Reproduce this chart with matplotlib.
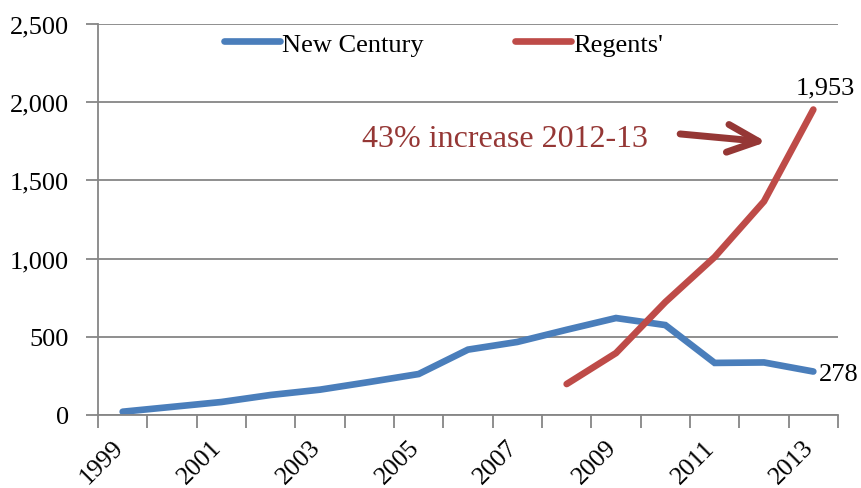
import numpy as np
import matplotlib
matplotlib.use('Agg')
import matplotlib.pyplot as plt

years = list(range(1999, 2014))
new_century = [21, 52, 83, 128, 162, 211, 262, 418, 467, 545, 620, 575, 333, 336, 278]
regents_years = [2008, 2009, 2010, 2011, 2012, 2013]
regents = [198, 396, 722, 1010, 1366, 1953]

blue = '#4A7EBB'
red = '#BE4B48'
dark_red = '#953735'
grey = '#868686'

plt.rcParams['font.family'] = ['Liberation Serif', 'DejaVu Serif']

fig = plt.figure(figsize=(8.61, 4.89), dpi=100)
ax = fig.add_axes([98 / 861, 1 - 416 / 489, 740 / 861, 391 / 489])

ax.plot(years, new_century, color=blue, lw=4.8, solid_capstyle='round', solid_joinstyle='miter', label='New Century')
ax.plot(regents_years, regents, color=red, lw=4.8, solid_capstyle='round', solid_joinstyle='miter', label="Regents'")

ax.set_xlim(1998.5, 2013.5)
ax.set_ylim(0, 2500)
ax.set_yticks(np.arange(0, 2501, 500))
ax.set_yticklabels(['0', '500', '1,000', '1,500', '2,000', '2,500'], fontsize=19)
ax.yaxis.grid(True, color=grey, lw=1.3)
ax.set_axisbelow(True)

# labels every other year, nudged a little right of the category centre
label_years = years[::2]
ax.set_xticks([y + 0.1 for y in label_years])
ax.set_xticklabels([str(y) for y in label_years], fontsize=18.5, rotation=45, ha='right', va='top')
ax.set_xticks(np.arange(1998.5, 2014, 1), minor=True)
ax.tick_params(axis='x', which='major', length=0, pad=15)
ax.tick_params(axis='x', which='minor', length=9, width=1.3, color=grey, direction='out')
ax.tick_params(axis='y', length=9, width=1.3, color=grey, pad=12)

for s in ['top', 'right']:
    ax.spines[s].set_visible(False)
for s in ['left', 'bottom']:
    ax.spines[s].set_color(grey)
    ax.spines[s].set_linewidth(1.3)

ax.text(2013.12, 262, f'{new_century[-1]:,}', fontsize=19, va='center', ha='left')
ax.text(2013.24, 2097, f'{regents[-1]:,}', fontsize=19, va='center', ha='center')

ax.text(2003.85, 1765, '43% increase 2012-13', fontsize=23, color=dark_red, va='center', ha='left')
ax.annotate('', xy=(2012.05, 1746), xytext=(2010.3, 1797),
            arrowprops=dict(arrowstyle='->,head_length=2.2,head_width=1.0', color=dark_red, lw=5,
                            mutation_scale=10, shrinkA=0, shrinkB=0,
                            capstyle='round', joinstyle='round'))

leg = ax.legend(loc='center', bbox_to_anchor=(0.467, 0.949), ncol=2, frameon=False,
                fontsize=19, handlelength=2.1, handletextpad=0.1, columnspacing=3.46,
                borderaxespad=0.0)

fig.savefig('out.png', dpi=100)
